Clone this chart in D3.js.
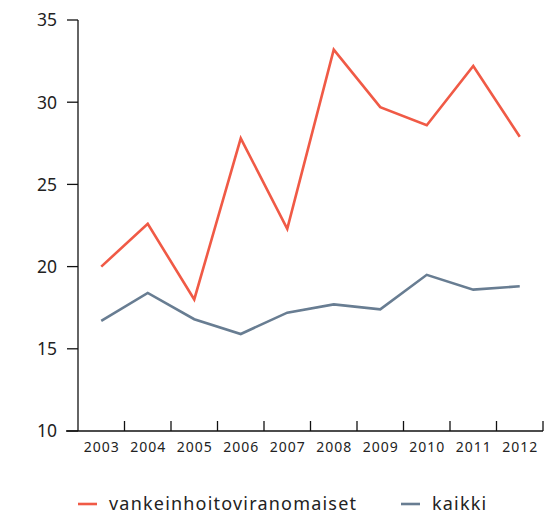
<!DOCTYPE html>
<html><head><meta charset="utf-8">
<script src="https://cdn.jsdelivr.net/npm/d3@7"></script>
<style>body{margin:0;background:#fff}svg{display:block}text{font-family:"Noto Sans",sans-serif;fill:#222}</style>
</head><body><svg id="c" width="556" height="514"></svg>
<script>
const years = ["2003","2004","2005","2006","2007","2008","2009","2010","2011","2012"];
const vankeinhoito = [20.0,22.6,18.0,27.8,22.3,33.2,29.7,28.6,32.2,27.9];
const kaikki = [16.7,18.4,16.8,15.9,17.2,17.7,17.4,19.5,18.6,18.8];
const yTicks = [10,15,20,25,30,35];
const seriesNames = ["vankeinhoitoviranomaiset","kaikki"];
const colors = ["#f05a46","#687d92"];

const svg = d3.select("#c");
const x = d3.scaleBand().domain(years).range([78,543]);
const y = d3.scaleLinear().domain([10,35]).range([431,20]);

// y axis
const ya = svg.append("g");
ya.append("line").attr("x1",78).attr("x2",78).attr("y1",y(35)).attr("y2",y(10)).attr("stroke","#111").attr("stroke-width",1.3);
yTicks.forEach(t=>{
  ya.append("line").attr("x1",67).attr("x2",78).attr("y1",y(t)).attr("y2",y(t)).attr("stroke","#111").attr("stroke-width",1.3);
  ya.append("text").attr("x",57).attr("y",y(t)).attr("dy","0.36em").attr("text-anchor","end").style("font-size","17.5px").text(t);
});
// x axis
const xa = svg.append("g");
xa.append("line").attr("x1",66).attr("x2",543).attr("y1",431).attr("y2",431).attr("stroke","#111").attr("stroke-width",1.3);
years.forEach((yr,i)=>{
  const xr = x(yr)+x.bandwidth();
  xa.append("line").attr("x1",xr).attr("x2",xr).attr("y1",421).attr("y2",431).attr("stroke","#111").attr("stroke-width",1.3);
  xa.append("text").attr("x",x(yr)+x.bandwidth()/2+0.5).attr("y",452).attr("text-anchor","middle").style("font-size","14px").style("letter-spacing","1px").text(yr);
});

const line = d3.line().x((d,i)=>x(years[i])+x.bandwidth()/2).y(d=>y(d));
[vankeinhoito,kaikki].forEach((s,k)=>{
  svg.append("path").datum(s).attr("d",line).attr("fill","none").attr("stroke",colors[k]).attr("stroke-width",2.6).attr("stroke-linejoin","miter");
});

// legend
const legX = [78,401];
seriesNames.forEach((n,k)=>{
  svg.append("line").attr("x1",legX[k]).attr("x2",legX[k]+19).attr("y1",504).attr("y2",504).attr("stroke",colors[k]).attr("stroke-width",2.6);
  svg.append("text").attr("x",legX[k]+31).attr("y",510).style("font-size","18px").style("letter-spacing","1.2px").text(n);
});
</script></body></html>
